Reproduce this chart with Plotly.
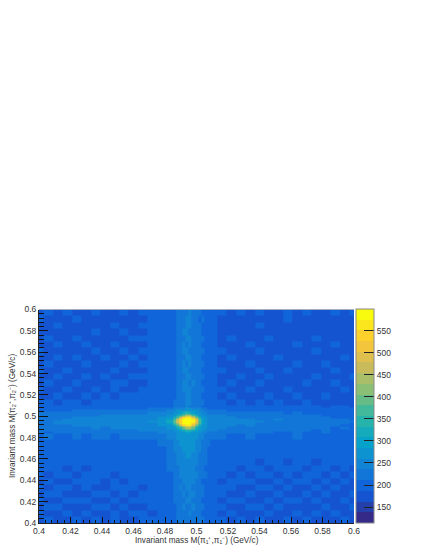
import plotly.graph_objects as go

# bin edges: coarse away from the peak, 0.002 wide across the cross
x_edges = [0.4, 0.406, 0.412, 0.418, 0.424, 0.43, 0.436, 0.442, 0.448, 0.454, 0.46, 0.466, 0.472, 0.478, 0.484,
           0.486, 0.488, 0.49, 0.492, 0.494, 0.496, 0.498, 0.5, 0.502, 0.504, 0.506, 0.508, 0.51,
           0.516, 0.522, 0.528, 0.534, 0.54, 0.546, 0.552, 0.558, 0.564, 0.57, 0.576, 0.582, 0.588, 0.594, 0.6]
y_edges = x_edges

# counts / 10, bottom row first
counts_tens = [
    [18,19,18,17,19,18,19,18,19,17,18,19,19,19, 20,21,22,22,23,23,23,23,22,22,22,21,20, 19,19,18,19,18,19,17,18,19,18,19,18,17,18,19,18],
    [19,18,17,19,18,20,18,17,19,18,20,19,18,20, 20,21,22,23,23,23,24,23,23,22,21,21,20, 20,18,19,18,17,18,19,18,18,19,18,19,18,19,17,18],
    [18,19,19,18,17,18,19,19,18,19,18,18,20,19, 21,21,23,23,24,23,23,24,23,22,22,20,20, 19,19,18,17,19,19,18,19,18,17,18,18,19,18,18,19],
    [19,18,18,20,19,19,18,18,20,18,19,20,19,20, 20,22,22,23,23,24,24,23,23,22,21,21,20, 20,18,19,19,18,18,19,18,19,19,17,19,18,18,19,17],
    [18,20,19,18,18,17,19,19,18,19,18,19,20,20, 21,22,23,23,24,23,24,24,23,22,22,21,20, 19,20,18,18,19,18,18,19,18,18,19,18,19,18,18,19],
    [19,18,19,19,17,19,18,18,19,20,19,18,19,20, 21,22,23,24,23,24,24,23,23,23,22,20,20, 20,19,19,18,17,19,19,18,19,18,18,19,17,19,18,18],
    [18,19,18,18,19,20,19,18,19,18,20,19,20,20, 21,22,23,23,24,24,24,24,23,22,21,21,21, 20,18,19,19,19,18,18,19,18,19,19,18,19,18,19,18],
    [20,18,19,19,18,19,19,20,18,19,19,20,19,20, 21,22,23,24,24,24,25,24,24,23,22,22,20, 20,19,18,19,18,19,19,18,20,18,19,19,18,19,17,19],
    [19,19,20,18,19,18,20,19,19,20,19,19,20,20, 22,22,23,24,25,25,25,24,23,23,23,21,21, 20,20,19,18,19,19,18,19,19,19,18,20,19,18,19,18],
    [19,20,19,19,20,19,19,20,19,19,20,20,20,20, 22,23,24,24,25,25,25,25,24,23,22,22,21, 20,19,20,19,19,18,20,19,18,19,20,18,19,19,19,20],
    [20,19,20,20,19,20,20,19,20,20,20,20,20,21, 22,23,24,25,25,26,26,25,24,23,23,22,21, 20,20,19,20,19,20,19,20,19,20,19,19,20,19,20,19],
    [20,20,20,20,20,20,20,20,21,20,21,20,21,21, 23,24,25,25,26,26,26,26,25,24,23,22,21, 21,20,20,20,20,20,20,20,20,20,20,20,19,20,19,20],
    [20,20,21,21,20,21,21,20,21,21,21,21,21,22, 23,24,25,26,26,27,27,26,25,24,23,23,22, 21,21,20,21,21,20,21,20,20,21,20,20,20,20,20,20],
    [21,22,21,21,22,21,22,22,21,22,22,22,23,23, 24,25,26,26,27,28,28,27,26,25,24,23,23, 22,22,21,21,22,21,21,21,21,22,21,21,21,21,20,21],
    [22,21,22,22,22,22,22,23,22,22,23,23,23,24, 25,25,26,27,28,29,29,28,27,26,25,24,23, 23,22,22,22,22,22,22,21,21,22,21,21,22,21,21,20],
    [22,22,22,23,22,23,23,23,23,23,23,24,24,24, 25,26,27,29,32,34,34,32,29,27,26,25,24, 24,23,23,22,23,22,22,22,22,22,22,21,22,21,21,21],
    [22,23,23,23,23,23,24,23,24,24,24,24,25,25, 26,28,31,35,40,43,43,39,33,29,27,26,25, 24,24,23,23,23,23,23,22,22,22,22,22,22,21,22,21],
    [23,23,23,23,24,24,24,24,24,24,24,25,25,26, 28,32,37,46,53,57,56,50,40,32,28,26,25, 25,24,24,23,24,23,23,23,23,22,23,22,22,22,21,21],
    [23,23,24,24,24,24,24,24,24,25,25,25,25,27, 30,36,45,53,58,60,59,55,47,36,29,26,25, 25,24,24,24,24,23,23,23,23,23,22,23,22,22,22,21],
    [23,23,24,24,24,24,24,25,25,25,25,25,26,27, 32,39,48,55,59,60,60,58,50,38,30,26,25, 25,25,24,24,24,24,23,23,23,23,23,22,22,22,22,22],
    [23,23,23,24,24,24,24,24,25,25,25,25,25,27, 30,37,46,54,58,60,60,56,48,36,29,26,25, 25,24,24,24,24,23,23,24,23,23,22,23,22,22,22,21],
    [23,23,23,23,24,24,24,24,24,24,25,25,25,26, 28,32,38,47,53,57,56,50,40,32,28,26,24, 25,24,24,23,23,23,23,23,22,23,22,22,22,21,21,21],
    [22,22,23,23,23,23,23,24,24,24,24,24,24,25, 26,28,31,35,40,44,43,38,32,28,26,25,24, 24,24,23,23,23,23,22,23,22,22,22,22,21,21,21,21],
    [22,22,22,22,22,23,23,23,23,23,23,23,24,24, 25,26,28,30,32,34,33,30,28,26,25,24,23, 23,23,22,22,22,22,22,22,21,22,21,21,21,21,21,20],
    [21,21,21,21,22,22,22,22,22,22,22,23,23,23, 24,25,26,27,28,28,28,27,26,25,24,23,22, 22,22,21,21,21,21,21,21,21,21,20,21,20,20,20,20],
    [20,20,20,21,21,20,21,21,21,21,21,21,22,22, 23,24,24,25,25,26,26,25,24,24,23,22,21, 21,20,20,20,20,20,20,20,20,20,19,20,19,19,20,19],
    [19,20,20,19,20,20,20,20,20,20,20,20,20,21, 21,22,22,23,23,24,23,23,23,22,21,21,20, 20,20,20,19,20,19,20,19,19,19,19,19,18,19,19,18],
    [19,19,18,19,19,18,19,19,20,19,19,20,20,20, 21,22,22,23,23,24,24,23,23,22,22,21,20, 20,19,18,19,18,19,18,19,18,18,19,18,18,17,18,18],
    [18,18,19,18,17,19,18,19,18,19,19,19,20,20, 21,21,22,23,23,24,24,23,23,22,21,20,20, 19,18,19,18,18,17,19,18,18,19,18,18,19,18,17,18],
    [19,17,18,19,18,18,19,18,19,18,18,19,19,20, 20,21,22,23,24,24,24,23,22,22,22,21,20, 20,19,18,18,19,18,18,17,19,18,18,17,18,18,19,17],
    [18,19,18,18,19,17,18,18,19,19,18,18,20,20, 21,21,22,23,24,24,23,24,23,22,21,20,20, 19,18,19,17,18,19,18,18,18,17,19,18,17,19,18,18],
    [18,18,19,17,18,19,18,19,18,18,19,19,19,20, 20,21,23,23,23,24,24,23,22,22,22,21,20, 20,18,17,19,18,18,19,18,17,18,18,19,18,18,18,19],
    [19,18,18,19,18,18,17,18,19,18,18,18,20,20, 21,21,22,23,24,24,23,23,22,22,21,20,20, 19,19,18,18,17,19,18,17,19,18,17,18,18,19,17,18],
    [18,19,18,18,17,19,18,18,18,19,17,19,19,20, 20,21,22,23,24,23,24,23,23,22,22,20,20, 20,18,18,17,19,18,18,18,17,19,18,17,19,18,18,17],
    [18,17,19,18,19,17,18,19,18,18,19,18,20,19, 21,21,22,23,23,24,24,23,22,22,21,21,20, 19,18,19,18,17,18,18,19,18,17,18,18,17,18,19,18],
    [19,18,18,17,18,18,19,18,18,19,18,19,19,20, 20,21,22,23,24,24,23,23,22,22,22,20,20, 20,19,17,18,18,19,18,17,18,18,17,19,18,17,18,17],
    [18,18,19,18,17,19,18,18,19,18,17,18,20,20, 21,21,22,23,24,23,24,23,23,22,21,20,20, 19,18,18,17,19,17,18,18,17,19,18,17,18,19,17,18],
    [18,19,18,18,19,18,18,17,18,18,19,19,19,20, 20,21,22,23,23,24,24,23,22,22,22,21,20, 19,17,19,18,17,18,19,17,18,17,18,19,18,17,18,17],
    [17,18,18,17,18,18,19,18,17,19,18,18,19,20, 20,21,22,23,24,24,23,23,23,22,21,20,20, 20,18,17,18,18,17,18,18,17,18,17,18,17,18,18,18],
    [18,17,19,18,17,18,18,18,19,17,18,19,20,19, 21,21,22,23,23,24,24,23,22,22,21,21,20, 19,18,18,17,18,19,17,18,18,17,18,17,18,17,18,18],
    [19,18,17,18,19,17,18,17,18,18,17,18,19,20, 20,21,22,23,23,24,24,23,23,21,22,20,20, 19,17,18,18,17,18,18,17,19,18,17,18,17,18,18,17],
    [18,19,18,19,18,18,19,18,18,19,18,19,19,19, 20,21,22,23,23,23,24,23,22,22,21,20,20, 20,19,18,19,18,19,18,18,19,18,19,18,18,19,18,19],
]

x_ticks = [0.4, 0.42, 0.44, 0.46, 0.48, 0.5, 0.52, 0.54, 0.56, 0.58, 0.6]
tick_text = ["0.4", "0.42", "0.44", "0.46", "0.48", "0.5", "0.52", "0.54", "0.56", "0.58", "0.6"]
cb_ticks = [150, 200, 250, 300, 350, 400, 450, 500, 550]

zmin, zmax = 114, 599
n_bands = 20

# ROOT's bird palette
bird_stops = [0, .125, .25, .375, .5, .625, .75, .875, 1]
bird_r = [0.2082, 0.0592, 0.0780, 0.0232, 0.1802, 0.5301, 0.8186, 0.9956, 0.9764]
bird_g = [0.1664, 0.3599, 0.5041, 0.6419, 0.7178, 0.7492, 0.7328, 0.7862, 0.9832]
bird_b = [0.5293, 0.8684, 0.8385, 0.7914, 0.6425, 0.4662, 0.3499, 0.1968, 0.0539]


def bird(t):
    for i in range(len(bird_stops) - 1):
        if t <= bird_stops[i + 1]:
            f = (t - bird_stops[i]) / (bird_stops[i + 1] - bird_stops[i])
            c = [a[i] + f * (a[i + 1] - a[i]) for a in (bird_r, bird_g, bird_b)]
            return "rgb(%d,%d,%d)" % tuple(round(v * 255) for v in c)
    return "rgb(249,251,14)"


# stepped colours, the histogram is drawn with 20 contour levels
colorscale = []
for k in range(n_bands):
    col = bird(k / (n_bands - 1))
    colorscale.append([k / n_bands, col])
    colorscale.append([(k + 1) / n_bands, col])

z = [[v * 10 for v in row] for row in counts_tens]

fig = go.Figure()
fig.add_trace(go.Heatmap(
    x=x_edges, y=y_edges, z=z,
    zmin=zmin, zmax=zmax,
    colorscale=colorscale,
    colorbar=dict(
        xref="container", yref="container",
        x=356 / 425, xanchor="left", xpad=0,
        y=1 - 523 / 550, yanchor="bottom", ypad=0,
        len=213.5 / 550, lenmode="fraction",
        thickness=18,
        tickvals=cb_ticks,
        ticks="inside", ticklen=10, tickwidth=1, tickcolor="#222",
        tickfont=dict(family="Liberation Sans", size=8.5, color="#333"),
        outlinecolor="#888", outlinewidth=1,
    ),
))

axis_common = dict(
    range=[0.4, 0.6],
    tickvals=x_ticks, ticktext=tick_text,
    ticks="inside", tickwidth=1, tickcolor="#111",
    tickfont=dict(family="Liberation Sans", size=8.5, color="#333"),
    showgrid=False, zeroline=False,
    showline=True, linecolor="#222", linewidth=1,
    minor=dict(dtick=0.004, tick0=0.4, ticks="inside", tickwidth=1, tickcolor="#111", showgrid=False),
)
fig.update_xaxes(**axis_common, ticklen=6, minor_ticklen=3,
                 domain=[39 / 425, 354 / 425], automargin=False)
fig.update_yaxes(**axis_common, ticklen=9, minor_ticklen=5,
                 domain=[1 - 523 / 550, 1 - 309.5 / 550], automargin=False)

# axis titles as annotations, standoff is ignored without automargin
title_font = dict(family="Liberation Sans", size=8.2, color="#333")
fig.add_annotation(text="Invariant mass M(π₁⁺,π₁⁻) (GeV/c)", xref="paper", yref="paper",
                   x=197 / 425, y=1 - 540 / 550, xanchor="center", yanchor="middle",
                   showarrow=False, font=title_font)
fig.add_annotation(text="Invariant mass M(π₂⁺,π₂⁻) (GeV/c)", xref="paper", yref="paper",
                   x=12 / 425, y=1 - 416 / 550, xanchor="center", yanchor="middle",
                   showarrow=False, textangle=-90, font=title_font)

# grey frame line along the top of the pad
fig.add_shape(type="line", xref="x", yref="y", x0=0.4, x1=0.6, y0=0.6, y1=0.6,
              line=dict(color="#888", width=1))

fig.update_layout(
    width=425, height=550,
    margin=dict(l=0, r=0, t=0, b=0, autoexpand=False),
    paper_bgcolor="white", plot_bgcolor="white",
)

# page default margin would shift the fixed-size figure by 8px
fig.write_html("out.html", config={"displayModeBar": False},
               post_script="document.body.style.margin='0';")
